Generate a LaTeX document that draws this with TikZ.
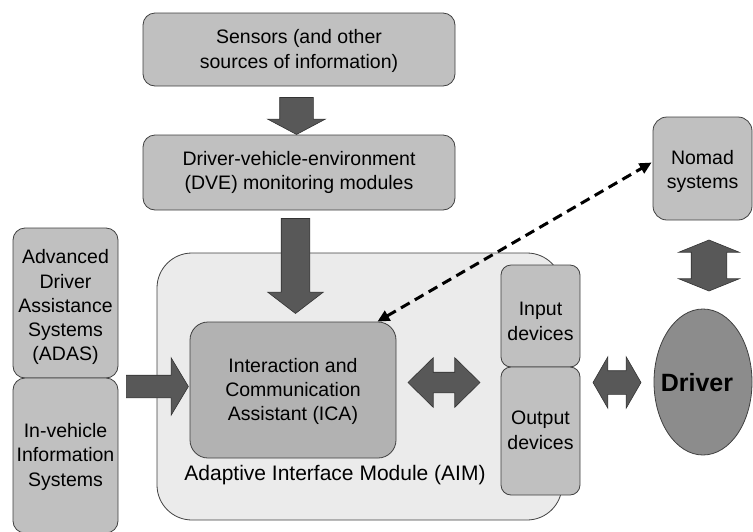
\documentclass[tikz,border=0pt]{standalone}
\usepackage{fontspec}
\setmainfont{Liberation Sans}
\usetikzlibrary{shapes.arrows,shapes.geometric,calc,arrows.meta}
\definecolor{boxgray}{HTML}{C0C0C0}
\definecolor{icagray}{HTML}{B2B2B2}
\definecolor{aimgray}{HTML}{EBEBEB}
\definecolor{arrowgray}{HTML}{585858}
\definecolor{drivergray}{HTML}{8C8C8C}
\definecolor{edgegray}{HTML}{404040}
\newcommand{\lowered}[2]{\raisebox{0pt}[\dimexpr\height+#1\relax]{\begin{tabular}{@{}c@{}}#2\end{tabular}}}
\begin{document}
\begin{tikzpicture}[x=1pt,y=-1pt,
  txt/.style={font=\fontsize{19.5}{24.3}\selectfont},
  box/.style={draw=edgegray, fill=boxgray, rounded corners=12pt, line width=0.8pt,
    inner sep=0pt, align=center, txt},
  sarrow/.style={single arrow, draw=black!80, fill=arrowgray, line width=0.6pt,
    inner xsep=0pt},
  darrow/.style={double arrow, draw=black!80, fill=arrowgray, line width=0.6pt,
    inner xsep=0pt},
  dashline/.style={draw=black, line width=3pt, dash pattern=on 10pt off 6pt,
    {Triangle[length=12pt,width=11pt]}-{Triangle[length=12pt,width=11pt]}}
]
\useasboundingbox (0,0) rectangle (753,531);

% containers and boxes
\node[box, fill=aimgray, rounded corners=35pt, minimum width=405pt, minimum height=267pt]
  (aim) at (359.5,386.5) {};
\node[txt, font=\fontsize{21}{26}\selectfont] (aimlabel) at (335,475) {Adaptive Interface Module (AIM)};

\node[box, minimum width=312pt, minimum height=73pt] (sens) at (299,49.5)
  {\lowered{3pt}{Sensors (and other\\sources of information)}};
\node[box, minimum width=312pt, minimum height=75pt] (dve) at (299,172.5)
  {Driver-vehicle-environment\\(DVE) monitoring modules};
\node[box, fill=icagray, rounded corners=18pt, minimum width=206pt, minimum height=136pt]
  (ica) at (293,390) {\lowered{3pt}{Interaction and\\Communication\\Assistant (ICA)}};

\node[box, minimum width=105pt, minimum height=150pt] (adas) at (65.5,303)
  {\lowered{9pt}{Advanced\\Driver\\Assistance\\Systems\\(ADAS)}};
\node[box, minimum width=105pt, minimum height=155pt] (ivis) at (65.5,455.5)
  {\lowered{3pt}{In-vehicle\\Information\\Systems}};

\node[box, rounded corners=10pt, minimum width=79pt, minimum height=102pt] (inp) at (540.5,316)
  {\lowered{14pt}{Input\\devices}};
\node[box, rounded corners=10pt, minimum width=79pt, minimum height=128pt] (outp) at (540.5,431)
  {\lowered{2pt}{Output\\devices}};

\node[box, rounded corners=14pt, minimum width=99pt, minimum height=103pt] (nomad) at (702.5,168.5)
  {\lowered{6pt}{Nomad\\systems}};
\node[ellipse, draw=edgegray, fill=drivergray, line width=0.8pt, inner sep=0pt,
  minimum width=98pt, minimum height=146pt] (driver) at (703,382) {};
\node[font=\fontsize{25}{30}\selectfont\bfseries] (drivertext) at (697,383) {Driver};

% block arrows
\node[sarrow, rotate=-90, minimum height=37pt, minimum width=57pt, inner ysep=16.5pt,
  single arrow head extend=12pt, single arrow tip angle=124] (a1) at (296.5,111.5) {};
\node[sarrow, rotate=-90, minimum height=95pt, minimum width=55pt, inner ysep=14pt,
  single arrow head extend=13.5pt, single arrow tip angle=105] (a2) at (295.5,260.5) {};
\node[sarrow, minimum height=62pt, minimum width=57pt, inner ysep=11pt,
  single arrow head extend=17.5pt, single arrow tip angle=118] (a3) at (154,386.5) {};
\node[darrow, minimum height=72pt, minimum width=49pt, inner ysep=10pt,
  double arrow head extend=14.5pt, double arrow tip angle=89] (a4) at (444,382.5) {};
\node[darrow, minimum height=48pt, minimum width=51pt, inner ysep=11.5pt,
  double arrow head extend=14pt, double arrow tip angle=120] (a5) at (617,382.5) {};
\node[darrow, rotate=90, minimum height=51pt, minimum width=60pt, inner ysep=17.5pt,
  double arrow head extend=12.5pt, double arrow tip angle=136] (a6) at (709,265.5) {};

% dashed link
\draw[dashline] ($(ica.north east)+(-19,0)$) -- ($(nomad.west)+(-1,-6)$);
\end{tikzpicture}
\end{document}
